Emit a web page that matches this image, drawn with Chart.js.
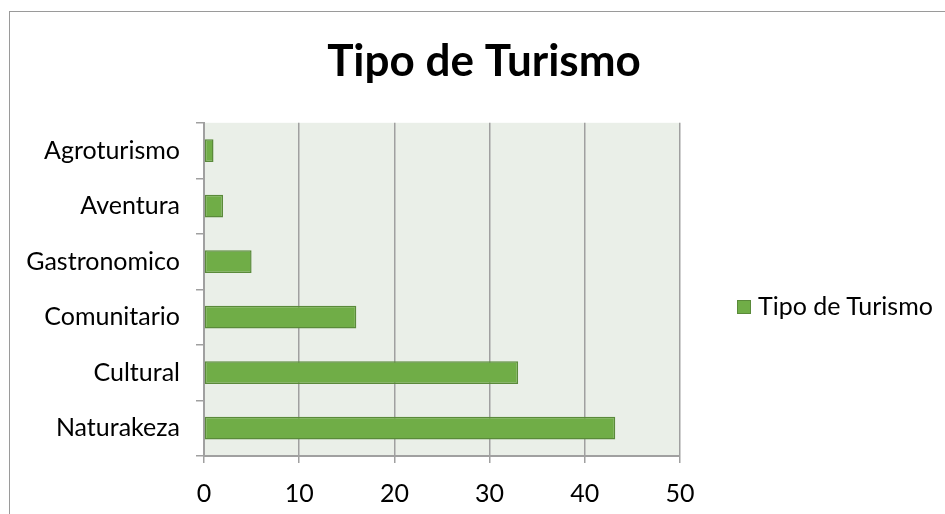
<!DOCTYPE html>
<html>
<head>
<meta charset="utf-8">
<script src="https://cdn.jsdelivr.net/npm/chart.js@4"></script>
<style>
  html, body { margin: 0; padding: 0; background: #fff; overflow: hidden; }
  #wrap { position: relative; width: 945px; height: 514px; }
  #frame { position: absolute; left: 9px; top: 11px; width: 960px; height: 540px; border: 1px solid #9a9a9a; }
  #legend { position: absolute; left: 737px; top: 290px; font-family: Lato, sans-serif; font-size: 25px; color: #000; white-space: nowrap; }
  #legend span.box { display: inline-block; width: 12px; height: 12px; background: #70ad47; border: 1px solid #5a8a3a; margin-right: 7px; vertical-align: 1px; }
</style>
</head>
<body>
<div id="wrap">
  <div id="frame"></div>
  <canvas id="chart" width="945" height="514"></canvas>
  <div id="legend"><span class="box"></span>Tipo de Turismo</div>
</div>
<script>
// Chart data
const categories = ['Agroturismo', 'Aventura', 'Gastronomico', 'Comunitario', 'Cultural', 'Naturakeza'];
const values = [1, 2, 5, 16, 33, 43.2];
const xTicks = [0, 10, 20, 30, 40, 50];
const seriesName = 'Tipo de Turismo';

// Fill the plot area background
const plotBg = {
    id: 'plotBg',
    beforeDraw(chart) {
        const { ctx, chartArea } = chart;
        ctx.save();
        ctx.fillStyle = '#eaefe8';
        ctx.fillRect(chartArea.left, chartArea.top, chartArea.right - chartArea.left, chartArea.bottom - chartArea.top);
        ctx.restore();
    }
};

const ctx = document.getElementById('chart').getContext('2d');
const chart = new Chart(ctx, {
    type: 'bar',
    data: {
        labels: categories,
        datasets: [{
            label: seriesName,
            data: values,
            backgroundColor: '#70ad47',
            borderColor: '#5a8a3a',
            borderWidth: 1.5,
            borderSkipped: false,
            barPercentage: 0.41,
            categoryPercentage: 1
        }]
    },
    options: {
        indexAxis: 'y',
        responsive: false,
        animation: false,
        layout: { padding: { left: 23, right: 0, top: 0, bottom: 0 } },
        plugins: {
            legend: { display: false },
            tooltip: { enabled: false },
            title: {
                display: true,
                text: seriesName,
                color: '#000',
                font: { family: 'Lato', size: 44, weight: 'bold' },
                padding: { top: 35, bottom: 35 }
            }
        },
        scales: {
            x: {
                min: 0,
                max: 50,
                afterBuildTicks(scale) {
                    scale.ticks = xTicks.map(v => ({ value: v }));
                },
                afterFit(scale) { scale.height = 58; },
                grid: { color: '#a0a0a0', lineWidth: 1.5, tickLength: 7, tickColor: '#a0a0a0' },
                border: { color: '#a0a0a0', width: 2 },
                ticks: { color: '#000', font: { family: 'Lato', size: 25 }, padding: 16 }
            },
            y: {
                afterFit(scale) { scale.width = 181; },
                grid: { drawOnChartArea: false, color: '#a0a0a0', lineWidth: 1.5, tickLength: 8, tickColor: '#a0a0a0' },
                border: { color: '#a0a0a0', width: 2 },
                ticks: { color: '#000', font: { family: 'Lato', size: 25 }, padding: 16 }
            },
            // empty space on the right where the legend sits
            legendSpace: {
                type: 'linear',
                position: 'right',
                afterFit(scale) { scale.width = 265; },
                grid: { display: false },
                border: { display: false },
                ticks: { display: false }
            }
        }
    },
    plugins: [plotBg]
});
</script>
</body>
</html>
